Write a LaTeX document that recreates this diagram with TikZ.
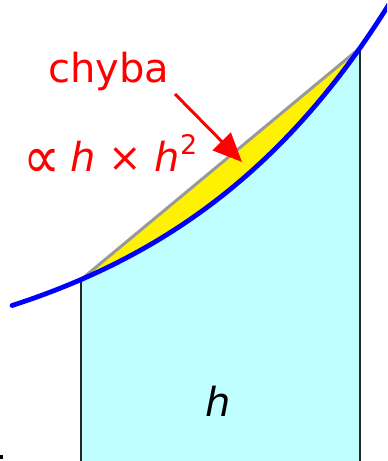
\documentclass[tikz,border=0pt]{standalone}
\usepackage{fontspec}
\setmainfont{DejaVu Sans}
\usetikzlibrary{arrows.meta,positioning}
\definecolor{areacyan}{RGB}{191,255,255}
\definecolor{chordgray}{RGB}{153,153,153}
\begin{document}
\begin{tikzpicture}[
  x=0.5pt, y=0.5pt,
  declare function={fy(\x)=79.2+72.5*exp(0.00424*\x);},
  area/.style={fill=areacyan},
  errfill/.style={fill=yellow},
  chord/.style={draw=chordgray, line width=1.5pt},
  curve/.style={draw=blue, line width=2.4pt, line cap=round},
  side/.style={draw=black!85, line width=1.1pt},
  lbl/.style={text=red, inner sep=0pt, font=\fontsize{20}{24}\selectfont},
  arr/.style={-{Triangle[length=14.5pt, width=12.5pt]}, draw=red, line width=1.5pt}
]
\clip (0,0) rectangle (387,461);
\coordinate (a0) at (81,0);
\coordinate (b0) at (360,0);
\coordinate (a) at (81,{fy(81)});
\coordinate (b) at (360,{fy(360)});
\fill[area] (a0) -- plot[domain=81:360, samples=50] (\x,{fy(\x)}) -- (b0) -- cycle;
\fill[errfill] (a) -- (b) -- plot[domain=360:81, samples=50] (\x,{fy(\x)}) -- cycle;
\draw[chord] (a) -- (b);
\draw[side] (a0) -- (a);
\draw[side] (b0) -- (b);
\draw[curve] plot[domain=12:395, samples=70] (\x,{fy(\x)});
\fill[black] (0,2) rectangle (3,6);
\node[lbl, anchor=base west] (chyba) at (48,378) {chyba};
\node[lbl, anchor=base west] (order) at (23,289) {\raisebox{-3.5pt}{\scalebox{1.3}[1.5]{∝}}\hspace{0.25em}\textit{h} × \textit{h}\raisebox{8.5pt}{\fontsize{13.5}{15}\selectfont 2}};
\node[inner sep=0pt, anchor=base, font=\fontsize{20}{24}\selectfont\itshape] (width) at (218,44) {h};
\coordinate (tail) at (175,367);
\coordinate (tip) at (242,299);
\draw[arr] (tail) -- (tip);
\end{tikzpicture}
\end{document}
